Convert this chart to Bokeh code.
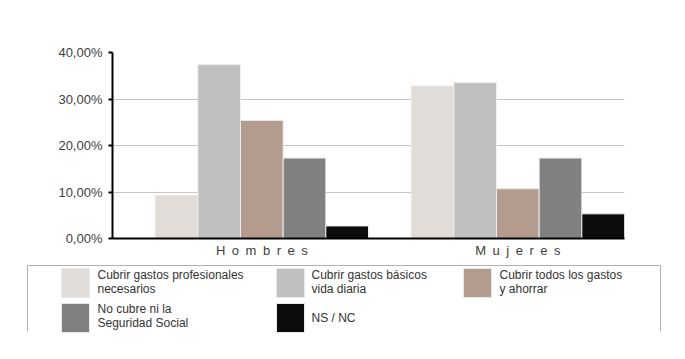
from bokeh.plotting import figure
from bokeh.models import Range1d, FixedTicker, ColumnDataSource
from bokeh.core.properties import value
from bokeh.embed import file_html
from bokeh.resources import INLINE

# ---- data ----
categories = ["Hombres", "Mujeres"]
category_labels = ["H\u2002o\u2002m\u2002b\u2002r\u2002e\u2002s", "M\u2002u\u2002j\u2002e\u2002r\u2002e\u2002s"]
series = [
    "Cubrir gastos profesionales\nnecesarios",
    "Cubrir gastos básicos\nvida diaria",
    "Cubrir todos los gastos\ny ahorrar",
    "No cubre ni la\nSeguridad Social",
    "NS / NC",
]
hombres = [9.3, 37.4, 25.4, 17.3, 2.7]
mujeres = [32.8, 33.5, 10.7, 17.3, 5.3]
colors = ["#e1dcd7", "#c0c0c0", "#b39b8d", "#808080", "#0c0c0c"]
y_ticks = [0, 10, 20, 30, 40]
y_tick_labels = ["0,00%", "10,00%", "20,00%", "30,00%", "40,00%"]

values = [hombres, mujeres]
n = len(series)
group_width = n + 1  # one empty slot per group

# ---- main chart ----
xs, tops, cols = [], [], []
for g, vals in enumerate(values):
    for i, v in enumerate(vals):
        xs.append(g * group_width + 1 + i + 0.5)
        tops.append(v)
        cols.append(colors[i])
src = ColumnDataSource(dict(x=xs, top=tops, color=cols))

p = figure(width=677, height=264, output_backend="svg", toolbar_location=None,
           x_range=Range1d(0, group_width * len(categories)), y_range=Range1d(0, 40),
           min_border_left=112, min_border_right=53, min_border_top=52, min_border_bottom=26)
p.outline_line_color = None
p.background_fill_color = "white"
p.border_fill_color = "white"

p.vbar(x="x", top="top", bottom=0, width=1, source=src, fill_color="color",
       line_color="#ececec", line_width=1)

p.xgrid.grid_line_color = None
p.ygrid.grid_line_color = "#c4c4c4"
p.ygrid.grid_line_width = 1
p.ygrid.ticker = FixedTicker(ticks=y_ticks)

p.yaxis.ticker = FixedTicker(ticks=y_ticks)
p.yaxis.major_label_overrides = {t: l for t, l in zip(y_ticks, y_tick_labels)}
p.yaxis.axis_line_color = "black"
p.yaxis.axis_line_width = 2
p.yaxis.major_tick_out = 4
p.yaxis.major_tick_in = 0
p.yaxis.major_tick_line_color = "black"
p.yaxis.major_tick_line_width = 2
p.yaxis.minor_tick_line_color = None
p.yaxis.major_label_standoff = 6
p.yaxis.major_label_text_font = "Liberation Sans"
p.yaxis.major_label_text_font_size = "13px"
p.yaxis.major_label_text_color = "#404040"

centers = [g * group_width + 1 + n / 2 for g in range(len(categories))]
p.xaxis.ticker = FixedTicker(ticks=centers)
p.xaxis.major_label_overrides = {c: l for c, l in zip(centers, category_labels)}
p.xaxis.axis_line_color = "black"
p.xaxis.axis_line_width = 2
p.xaxis.major_tick_out = 0
p.xaxis.major_tick_in = 0
p.xaxis.minor_tick_line_color = None
p.xaxis.major_label_standoff = 4
p.xaxis.major_label_text_font = "Liberation Sans"
p.xaxis.major_label_text_font_size = "13px"
p.xaxis.major_label_text_color = "#404040"

# ---- legend panel ----
L = figure(width=677, height=90, output_backend="svg", toolbar_location=None,
           x_range=Range1d(0, 677), y_range=Range1d(90, 0),
           x_axis_type=None, y_axis_type=None,
           min_border_left=0, min_border_right=0, min_border_top=0, min_border_bottom=0)
L.outline_line_color = None
L.xgrid.grid_line_color = None
L.ygrid.grid_line_color = None

# box (top, left, right edges)
L.multi_line(xs=[[27, 27, 660, 660]], ys=[[67, 1, 1, 67]], line_color="#b0b0b0", line_width=1)

sw_x = [61, 276, 463, 61, 276]
sw_y = [4, 4, 4, 39, 39]
tx_x = [97, 311, 499, 97, 311]
tx_y = [17, 17, 17, 51, 53]
L.rect(x=[x + 14 for x in sw_x], y=[y + 14.5 for y in sw_y], width=28, height=29,
       fill_color=colors, line_color="#e8e8e8", line_width=1)
L.text(x=tx_x, y=tx_y, text=series, text_font=value("Liberation Sans"),
       text_font_size="12px", text_color="#333333", text_baseline="middle",
       text_align="left", text_line_height=1.0)

open("out.html", "w").write(file_html([p, L], INLINE))
